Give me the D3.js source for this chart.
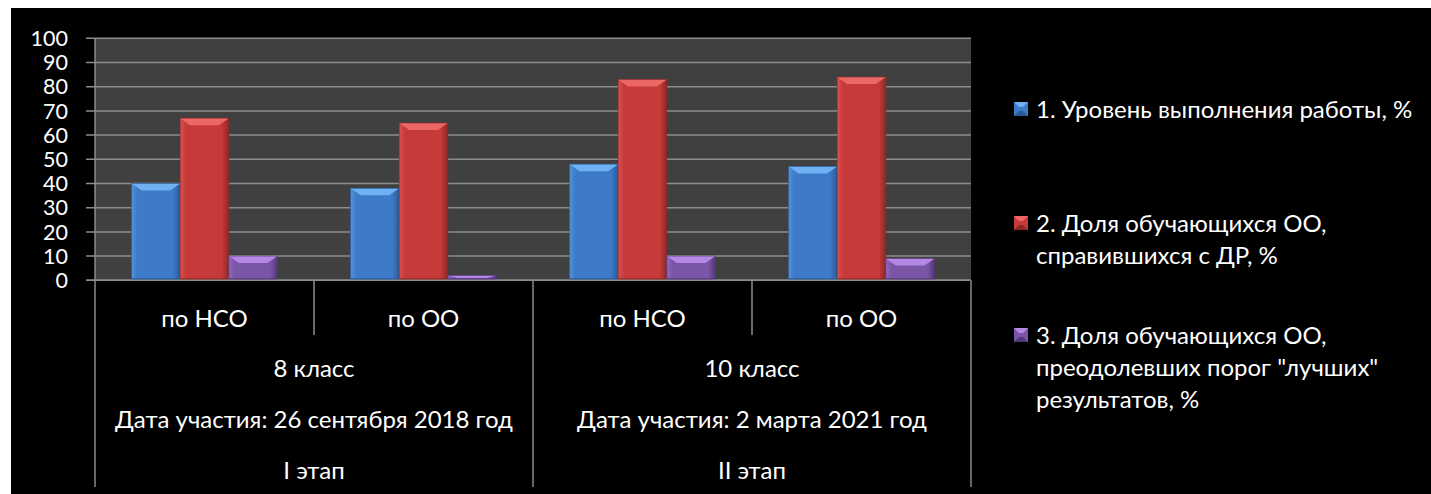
<!DOCTYPE html>
<html lang="ru">
<head>
<meta charset="UTF-8">
<title>chart</title>
<script src="https://d3js.org/d3.v7.min.js"></script>
<style>
  html, body { margin: 0; padding: 0; background: #fff; }
  svg { display: block; }
  text { font-family: Lato, "Open Sans", sans-serif; fill: #fff; }
</style>
</head>
<body>
<div id="chart"></div>
<script>
// data
const categories = ["по НСО", "по ОО", "по НСО", "по ОО"];
const grades = ["8 класс", "10 класс"];
const dates = ["Дата участия: 26 сентября 2018 год", "Дата участия: 2 марта 2021 год"];
const stages = ["I этап", "II этап"];
const seriesNames = [
  ["1. Уровень выполнения работы, %"],
  ["2. Доля обучающихся ОО,", "справившихся с ДР, %"],
  ["3. Доля обучающихся ОО,", "преодолевших порог \"лучших\"", "результатов, %"]
];
const series1 = [40, 38, 48, 47];
const series2 = [67, 65, 83, 84];
const series3 = [10, 2, 10, 9];
const yTicks = [0, 10, 20, 30, 40, 50, 60, 70, 80, 90, 100];

const palette = [
  { base: "#3d7bc8", light: "#6fb0f2", dark: "#2a5a98", edge: "#5592dc" },
  { base: "#c63b3a", light: "#ec6864", dark: "#8e2826", edge: "#d85150" },
  { base: "#7a56a6", light: "#b688e6", dark: "#51377a", edge: "#9068c0" }
];

const W = 1431, H = 494;
const plotLeft = 95, plotRight = 971, plotTop = 38.3, plotBottom = 280.3;
const fontSize = 24;

const svg = d3.select("#chart").append("svg").attr("width", W).attr("height", H);

// black card
svg.append("rect").attr("x", 11).attr("y", 8).attr("width", W - 11).attr("height", H - 8).attr("fill", "#000");

const x = d3.scaleBand().domain(d3.range(categories.length)).range([plotLeft, plotRight]).padding(0);
const inner = d3.scaleBand().domain([0, 1, 2]).range([0, x.bandwidth()]).paddingOuter(0.75).paddingInner(0);
const y = d3.scaleLinear().domain([0, 100]).range([plotBottom, plotTop]);

// gradient for bar body shading
const defs = svg.append("defs");
palette.forEach((c, s) => {
  const lg = defs.append("linearGradient").attr("id", "bar" + s).attr("x1", 0).attr("x2", 1).attr("y1", 0).attr("y2", 0);
  lg.append("stop").attr("offset", "0%").attr("stop-color", c.edge);
  lg.append("stop").attr("offset", "12%").attr("stop-color", c.base);
  lg.append("stop").attr("offset", "85%").attr("stop-color", c.base);
  lg.append("stop").attr("offset", "100%").attr("stop-color", c.dark);
});

// plot area
svg.append("rect").attr("x", plotLeft).attr("y", plotTop).attr("width", plotRight - plotLeft).attr("height", plotBottom - plotTop).attr("fill", "#404040");

// grid
svg.append("g").selectAll("line").data(yTicks).join("line")
  .attr("x1", plotLeft - 9).attr("x2", plotRight)
  .attr("y1", d => y(d)).attr("y2", d => y(d))
  .attr("stroke", "#8c8c8c").attr("stroke-width", 1.5);

// y labels
svg.append("g").selectAll("text").data(yTicks).join("text")
  .attr("x", 68).attr("y", d => y(d))
  .attr("dy", "0.36em")
  .attr("text-anchor", "end")
  .attr("font-size", 21.5)
  .text(d => d);

// y axis line
svg.append("line").attr("x1", plotLeft).attr("x2", plotLeft).attr("y1", plotTop).attr("y2", plotBottom)
  .attr("stroke", "#8c8c8c").attr("stroke-width", 1.5);

// bars
const allSeries = [series1, series2, series3];
const barG = svg.append("g");
allSeries.forEach((vals, s) => {
  const c = palette[s];
  vals.forEach((v, i) => {
    const bx = x(i) + inner(s);
    const bw = inner.bandwidth();
    const by = y(v);
    const bh = y(0) - by;
    const g = barG.append("g");
    g.append("rect").attr("x", bx).attr("y", by).attr("width", bw).attr("height", bh).attr("fill", `url(#bar${s})`);
    const bev = Math.min(10, bw / 2);
    const bvy = Math.min(7, bh / 2);
    // top bevel
    g.append("polygon")
      .attr("points", [[bx, by], [bx + bw, by], [bx + bw - bev, by + bvy], [bx + bev, by + bvy]].map(p => p.join(",")).join(" "))
      .attr("fill", c.light);
    // bottom edge
    g.append("rect").attr("x", bx).attr("y", y(0) - 2).attr("width", bw).attr("height", 2).attr("fill", c.dark);
    g.append("rect").attr("x", bx).attr("y", by).attr("width", bw).attr("height", bh)
      .attr("fill", "none").attr("stroke", c.dark).attr("stroke-width", 0.8).attr("stroke-opacity", 0.7);
  });
});

// x axis line
svg.append("line").attr("x1", plotLeft - 9).attr("x2", plotRight).attr("y1", plotBottom).attr("y2", plotBottom)
  .attr("stroke", "#8c8c8c").attr("stroke-width", 1.5);

// category dividers
const axisColor = "#8c8c8c";
const groupEdges = [0, 2, 4].map(i => i < categories.length ? x(i) : plotRight);
svg.append("g").selectAll("line").data(groupEdges).join("line")
  .attr("x1", d => d).attr("x2", d => d).attr("y1", plotBottom).attr("y2", 487)
  .attr("stroke", axisColor).attr("stroke-width", 1.5);
svg.append("g").selectAll("line").data([1, 3]).join("line")
  .attr("x1", d => x(d)).attr("x2", d => x(d)).attr("y1", plotBottom).attr("y2", 335)
  .attr("stroke", axisColor).attr("stroke-width", 1.5);

// category labels
svg.append("g").selectAll("text").data(categories).join("text")
  .attr("x", (d, i) => x(i) + x.bandwidth() / 2).attr("y", 318)
  .attr("dy", "0.36em").attr("text-anchor", "middle").attr("font-size", fontSize)
  .text(d => d);

const groupCenter = g => (x(g * 2) + x(g * 2 + 1) + x.bandwidth()) / 2;
[[grades, 368], [dates, 419], [stages, 470]].forEach(([labels, ly]) => {
  svg.append("g").selectAll("text").data(labels).join("text")
    .attr("x", (d, i) => groupCenter(i)).attr("y", ly)
    .attr("dy", "0.36em").attr("text-anchor", "middle").attr("font-size", fontSize)
    .text(d => d);
});

// legend
const legendY = [109, 223, 335];
const lineH = 32.3;
seriesNames.forEach((lines, s) => {
  const c = palette[s];
  const g = svg.append("g").attr("transform", `translate(1014,${legendY[s]})`);
  g.append("rect").attr("x", 0).attr("y", -7).attr("width", 14).attr("height", 14).attr("fill", c.base);
  g.append("polygon").attr("points", "0,-7 14,-7 9,-2 5,-2").attr("fill", c.light);
  g.append("polygon").attr("points", "0,7 14,7 9,2 5,2").attr("fill", c.dark);
  g.selectAll("text").data(lines).join("text")
    .attr("x", 22).attr("y", (d, k) => k * lineH)
    .attr("dy", "0.36em").attr("font-size", fontSize)
    .text(d => d);
});
</script>
</body>
</html>
